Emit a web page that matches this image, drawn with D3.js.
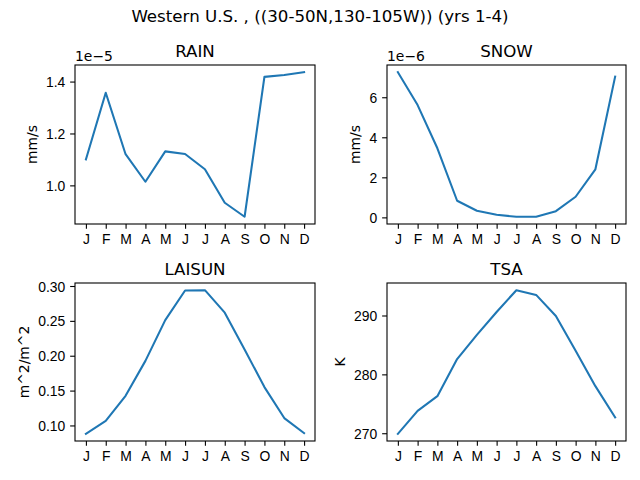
<!DOCTYPE html>
<html>
<head>
<meta charset="utf-8">
<script src="https://cdn.jsdelivr.net/npm/d3@7"></script>
<style>
  body { margin: 0; background: #fff; }
  svg { font-family: "DejaVu Sans", sans-serif; }
  .tick text { font-size: 13.9px; fill: #000; }
  .domain { stroke: #000; stroke-width: 1.1; }
  .tick line { stroke: #000; stroke-width: 1.1; }
</style>
</head>
<body>
<svg id="canvas" width="640" height="480"></svg>
<script>
// month labels along the x axis
const months = ["J", "F", "M", "A", "M", "J", "J", "A", "S", "O", "N", "D"];

// values (RAIN x1e-5, SNOW x1e-6)
const rain = [1.100, 1.357, 1.120, 1.014, 1.131, 1.121, 1.062, 0.933, 0.879, 1.418, 1.425, 1.436];
const snow = [7.25, 5.61, 3.45, 0.83, 0.33, 0.13, 0.03, 0.03, 0.31, 1.03, 2.40, 7.03];
const laisun = [0.088, 0.1067, 0.1425, 0.1926, 0.251, 0.2936, 0.294, 0.2618, 0.209, 0.155, 0.1106, 0.089];
const tsa = [269.9, 273.8, 276.3, 282.6, 286.7, 290.6, 294.3, 293.5, 289.9, 284.0, 278.0, 272.7];

const rainTicks = [1.0, 1.2, 1.4];
const snowTicks = [0, 2, 4, 6];
const laiTicks = [0.10, 0.15, 0.20, 0.25, 0.30];
const tsaTicks = [270, 280, 290];

const panels = [
  {title: "RAIN", unit: "mm/s", values: rain, ticks: rainTicks, fmt: d3.format(".1f"), offset: "1e\u22125",
   x0: 75, x1: 315, y0: 65, y1: 224},
  {title: "SNOW", unit: "mm/s", values: snow, ticks: snowTicks, fmt: d3.format("d"), offset: "1e\u22126",
   x0: 387, x1: 626, y0: 65, y1: 224},
  {title: "LAISUN", unit: "m^2/m^2", values: laisun, ticks: laiTicks, fmt: d3.format(".2f"), offset: null,
   x0: 75, x1: 315, y0: 283, y1: 441},
  {title: "TSA", unit: "K", values: tsa, ticks: tsaTicks, fmt: d3.format("d"), offset: null,
   x0: 387, x1: 626, y0: 283, y1: 441}
];

const svg = d3.select("#canvas");

svg.append("text")
   .attr("x", 320).attr("y", 22)
   .attr("text-anchor", "middle")
   .style("font-size", "16.67px")
   .text("Western U.S. , ((30-50N,130-105W)) (yrs 1-4)");

panels.forEach(function(p) {
  // matplotlib-style 5% margins on both axes
  let xs = d3.scaleLinear().domain([-0.55, 11.55]).range([p.x0, p.x1]);
  let lo = d3.min(p.values), hi = d3.max(p.values), pad = (hi - lo) * 0.05;
  let ys = d3.scaleLinear().domain([lo - pad, hi + pad]).range([p.y1, p.y0]);

  let g = svg.append("g");

  g.append("path")
   .datum(p.values)
   .attr("fill", "none")
   .attr("stroke", "#1f77b4")
   .attr("stroke-width", 2.08)
   .attr("stroke-linejoin", "round")
   .attr("stroke-linecap", "square")
   .attr("d", d3.line().x(function(d, i) { return xs(i); }).y(function(d) { return ys(d); }));

  g.append("rect")
   .attr("x", p.x0).attr("y", p.y0)
   .attr("width", p.x1 - p.x0).attr("height", p.y1 - p.y0)
   .attr("fill", "none").attr("stroke", "#000").attr("stroke-width", 1.1);

  let xa = g.append("g")
   .attr("transform", "translate(0," + p.y1 + ")")
   .call(d3.axisBottom(xs).tickValues(d3.range(12)).tickFormat(function(i) { return months[i]; })
         .tickSize(4.86).tickPadding(4.86).tickSizeOuter(0));
  xa.select(".domain").remove();
  xa.selectAll("text").attr("dy", "0.75em");

  let ya = g.append("g")
   .attr("transform", "translate(" + p.x0 + ",0)")
   .call(d3.axisLeft(ys).tickValues(p.ticks).tickFormat(p.fmt)
         .tickSize(4.86).tickPadding(4.86).tickSizeOuter(0));
  ya.select(".domain").remove();
  ya.selectAll("text").attr("dy", "0.36em");

  g.append("text")
   .attr("x", (p.x0 + p.x1) / 2).attr("y", p.y0 - 8)
   .attr("text-anchor", "middle")
   .style("font-size", "16.67px")
   .text(p.title);

  if (p.offset) {
    g.append("text")
     .attr("x", p.x0).attr("y", p.y0 - 4)
     .style("font-size", "13.9px")
     .text(p.offset);
  }

  // y label sits left of the widest tick label (pad + descent of rotated text)
  let w = 0;
  ya.selectAll("text").each(function() { w = Math.max(w, this.getBBox().width); });
  let lx = p.x0 - 9.7 - w - 5.6 - 3.5;
  g.append("text")
   .attr("transform", "translate(" + lx + "," + ((p.y0 + p.y1) / 2) + ") rotate(-90)")
   .attr("text-anchor", "middle")
   .style("font-size", "13.9px")
   .text(p.unit);
});
</script>
</body>
</html>
